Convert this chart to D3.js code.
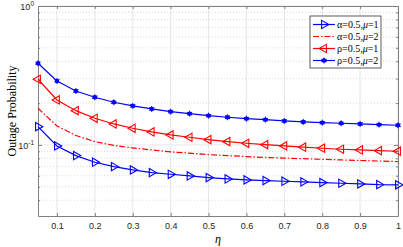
<!DOCTYPE html>
<html>
<head>
<meta charset="utf-8">
<script src="https://cdn.jsdelivr.net/npm/d3@7"></script>
<style>
  body { margin: 0; background: #fff; }
  svg { display: block; }
</style>
</head>
<body>
<div id="chart"></div>
<script>
// eta values, 0.05 to 1 in steps of 0.05
const eta = [0.05, 0.1, 0.15, 0.2, 0.25, 0.3, 0.35, 0.4, 0.45, 0.5,
             0.55, 0.6, 0.65, 0.7, 0.75, 0.8, 0.85, 0.9, 0.95, 1.0];

// values
const alphaMu1 = [0.1354, 0.0984, 0.0838, 0.0751, 0.0698, 0.0661, 0.0632, 0.0615, 0.0598, 0.0582,
                  0.0569, 0.0560, 0.0554, 0.0548, 0.0542, 0.0536, 0.0530, 0.0524, 0.0518, 0.0516];
const alphaMu2 = [0.1837, 0.137, 0.117, 0.1056, 0.0992, 0.0951, 0.092, 0.0891, 0.0872, 0.0852,
                  0.0838, 0.0825, 0.0813, 0.0804, 0.0796, 0.0788, 0.0780, 0.0773, 0.0766, 0.0759];
const rhoMu1 = [0.297, 0.2107, 0.1765, 0.1556, 0.1416, 0.1318, 0.1240, 0.118, 0.1136, 0.1092,
                0.1056, 0.1028, 0.1005, 0.0984, 0.0963, 0.0947, 0.0931, 0.092, 0.091, 0.0901];
const rhoMu2 = [0.387, 0.2887, 0.2445, 0.2204, 0.2028, 0.1909, 0.1816, 0.1736, 0.1680, 0.1625,
                0.1582, 0.1546, 0.1521, 0.1488, 0.1464, 0.1447, 0.1432, 0.1416, 0.1400, 0.1386];

const xTicks = [0.1, 0.2, 0.3, 0.4, 0.5, 0.6, 0.7, 0.8, 0.9, 1];
const yMajor = [0.1, 1];
const yMinor = [0.04, 0.05, 0.06, 0.07, 0.08, 0.09, 0.2, 0.3, 0.4, 0.5, 0.6, 0.7, 0.8, 0.9];

const series = [
  {name: 'α=0.5,μ=1', greek: 'α', mu: '1', values: alphaMu1, color: '#0000ff', marker: 'triRight', dash: null},
  {name: 'α=0.5,μ=2', greek: 'α', mu: '2', values: alphaMu2, color: '#ff0000', marker: null, dash: '6,2,1.5,2'},
  {name: 'ρ=0.5,μ=1', greek: 'ρ', mu: '1', values: rhoMu1, color: '#ff0000', marker: 'triLeft', dash: null},
  {name: 'ρ=0.5,μ=2', greek: 'ρ', mu: '2', values: rhoMu2, color: '#0000ff', marker: 'star', dash: null}
];

const W = 403, H = 247;
const m = {left: 38, right: 5, top: 6, bottom: 31};

const svg = d3.select('#chart').append('svg')
  .attr('width', W)
  .attr('height', H);

const x = d3.scaleLinear().domain([0.05, 1]).range([m.left, W - m.right]);
const y = d3.scaleLog().domain([0.0308, 1]).range([H - m.bottom, m.top]);

// grid
const grid = svg.append('g');
grid.selectAll('.vx').data(xTicks).enter().append('line')
  .attr('x1', d => x(d)).attr('x2', d => x(d))
  .attr('y1', m.top).attr('y2', H - m.bottom)
  .style('stroke', '#e6e6e6').style('stroke-width', 1);
grid.selectAll('.ymin').data(yMinor).enter().append('line')
  .attr('x1', m.left).attr('x2', W - m.right)
  .attr('y1', d => y(d)).attr('y2', d => y(d))
  .style('stroke', '#d0d0d0').style('stroke-width', 0.8)
  .style('stroke-dasharray', '1,2');
grid.selectAll('.ymaj').data(yMajor).enter().append('line')
  .attr('x1', m.left).attr('x2', W - m.right)
  .attr('y1', d => y(d)).attr('y2', d => y(d))
  .style('stroke', '#e6e6e6').style('stroke-width', 1);

// axes, ticks inside like matlab
const axisColor = '#808080';
const xAxis = svg.append('g')
  .attr('transform', `translate(0,${H - m.bottom})`)
  .call(d3.axisBottom(x).tickValues(xTicks).tickSizeInner(-3).tickSizeOuter(0)
    .tickFormat(d => d === 1 ? '1' : d3.format('.1f')(d)));
xAxis.selectAll('text').attr('dy', '1.1em');
const xTop = svg.append('g')
  .attr('transform', `translate(0,${m.top})`)
  .call(d3.axisTop(x).tickValues(xTicks).tickSizeInner(-3).tickSizeOuter(0).tickFormat(''));

const yAxis = svg.append('g')
  .attr('transform', `translate(${m.left},0)`)
  .call(d3.axisLeft(y).tickValues(yMajor.concat(yMinor)).tickSizeInner(-2).tickSizeOuter(0).tickFormat(''));
yAxis.selectAll('.tick line').filter(d => yMajor.includes(d)).attr('x2', 4);
const yRight = svg.append('g')
  .attr('transform', `translate(${W - m.right},0)`)
  .call(d3.axisRight(y).tickValues(yMajor.concat(yMinor)).tickSizeInner(-2).tickSizeOuter(0).tickFormat(''));
yRight.selectAll('.tick line').filter(d => yMajor.includes(d)).attr('x2', -4);

[xAxis, xTop, yAxis, yRight].forEach(g => {
  g.select('.domain').style('stroke', axisColor);
  g.selectAll('.tick line').style('stroke', axisColor);
  g.selectAll('text').style('font-family', 'Liberation Sans, Arial, sans-serif')
    .style('font-size', '9px').style('fill', '#262626');
});

// y labels as 10^n
yMajor.forEach(v => {
  const t = svg.append('text')
    .attr('x', m.left - 4)
    .attr('y', y(v) + 4)
    .attr('text-anchor', 'end')
    .style('font-family', 'Liberation Sans, Arial, sans-serif')
    .style('font-size', '9px')
    .style('fill', '#262626');
  t.append('tspan').text('10');
  t.append('tspan').attr('dy', -4).style('font-size', '6.5px').text(Math.round(Math.log10(v)));
});

// lines
const line = d3.line()
  .x((d, i) => x(eta[i]))
  .y(d => y(d));

series.forEach(s => {
  svg.append('path')
    .datum(s.values)
    .attr('d', line)
    .style('fill', 'none')
    .style('stroke', s.color)
    .style('stroke-width', 1.2)
    .style('stroke-dasharray', s.dash);
});

function drawMarker(g, type, cx, cy, color) {
  if (type === 'triRight' || type === 'triLeft') {
    const sym = d3.symbol().type(d3.symbolTriangle).size(30);
    g.append('path')
      .attr('d', sym())
      .attr('transform', `translate(${cx},${cy}) rotate(${type === 'triRight' ? 90 : -90})`)
      .style('fill', 'none')
      .style('stroke', color)
      .style('stroke-width', 1.1);
  } else if (type === 'star') {
    g.append('circle')
      .attr('cx', cx).attr('cy', cy).attr('r', 2.2)
      .style('fill', color);
    [0, 60, 120].forEach(a => {
      g.append('line')
        .attr('x1', cx - 3).attr('x2', cx + 3)
        .attr('y1', cy).attr('y2', cy)
        .attr('transform', `rotate(${a + 90},${cx},${cy})`)
        .style('stroke', color).style('stroke-width', 0.9);
    });
  }
}

series.filter(s => s.marker).forEach(s => {
  const g = svg.append('g');
  s.values.forEach((v, i) => drawMarker(g, s.marker, x(eta[i]), y(v), s.color));
});

// legend
const lg = svg.append('g').attr('transform', 'translate(310,16)');
lg.append('rect')
  .attr('width', 71).attr('height', 52)
  .style('fill', '#fff').style('stroke', '#333').style('stroke-width', 0.8);
series.forEach((s, i) => {
  const yy = 8.5 + i * 12;
  lg.append('line')
    .attr('x1', 3).attr('x2', 25).attr('y1', yy).attr('y2', yy)
    .style('stroke', s.color).style('stroke-width', 1.2)
    .style('stroke-dasharray', s.dash);
  if (s.marker) drawMarker(lg, s.marker, 14, yy, s.color);
  const t = lg.append('text')
    .attr('x', 27).attr('y', yy + 3.5)
    .style('font-family', 'Liberation Serif, Times New Roman, serif')
    .style('font-size', '10px')
    .style('fill', '#000');
  t.append('tspan').text(s.greek + '=0.5,');
  t.append('tspan').style('font-style', 'italic').text('μ');
  t.append('tspan').text('=' + s.mu);
});

// axis titles
svg.append('text')
  .attr('transform', `translate(16,${(m.top + H - m.bottom) / 2}) rotate(-90)`)
  .attr('text-anchor', 'middle')
  .style('font-family', 'Liberation Serif, Times New Roman, serif')
  .style('font-size', '12px')
  .text('Outage Probability');

svg.append('text')
  .attr('x', x(0.525))
  .attr('y', 243)
  .attr('text-anchor', 'middle')
  .style('font-family', 'Liberation Serif, Times New Roman, serif')
  .style('font-style', 'italic')
  .style('font-size', '12px')
  .text('η');
</script>
</body>
</html>
